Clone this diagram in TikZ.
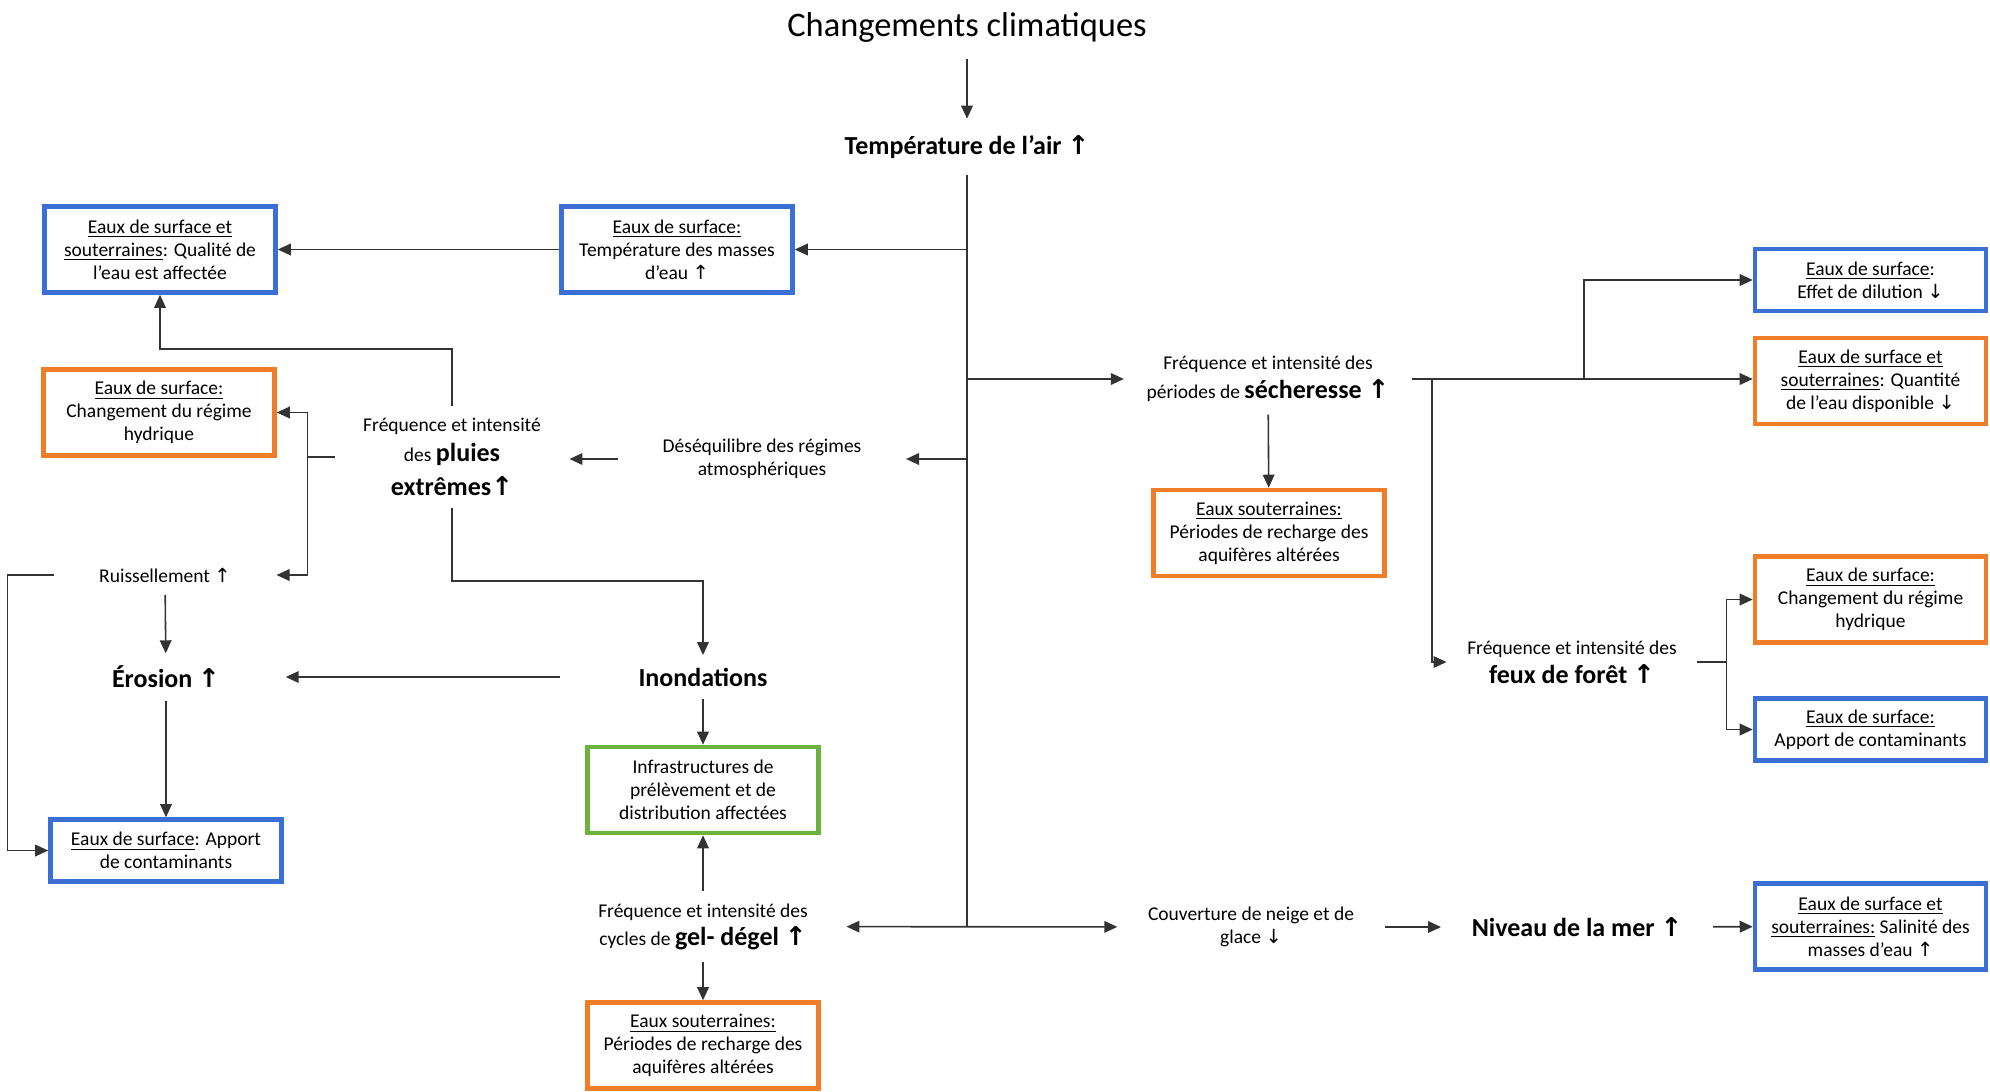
\documentclass[tikz,border=0pt]{standalone}
\usepackage{amsmath}
\usepackage{fontspec}
\setmainfont{Carlito}
\newfontfamily\flechefont{DejaVu Sans}
\usepackage{tikz}
\usetikzlibrary{arrows.meta, positioning}
\usepackage{xcolor}

\definecolor{bleuEau}{HTML}{3B6FD5}
\definecolor{orangeEau}{HTML}{F07D28}
\definecolor{vertInfra}{HTML}{6CB33E}

\newcommand{\petit}{\fontsize{5.55}{6.54}\selectfont}
\newcommand{\grand}{\fontsize{7.4}{8.4}\selectfont\bfseries}
\newcommand{\hausse}{{\flechefont ↑}}
\newcommand{\baisse}{{\flechefont ↓}}

\begin{document}
\begin{tikzpicture}
  [boite/.style={rectangle, draw, line width=1.3pt, fill=white, minimum width=2.31cm, inner sep=0pt, align=center, font=\petit},
  haute/.style={boite, minimum height=0.86cm},
  basse/.style={boite, minimum height=0.62cm},
  texte/.style={align=center, font=\petit, inner xsep=0.3cm, inner ysep=0.12cm},
  trait/.style={draw=black!80, line width=0.45pt},
  fleche/.style={trait, ->},
  >={Triangle[length=3.7pt, width=3.3pt]}]

\useasboundingbox (0, 0) rectangle (19.9, -10.91);

% Top of the chain
\node[texte, inner ysep=0.15cm, font=\fontsize{9.8}{11.8}\selectfont] (titre) at (9.67, -0.28) {Changements climatiques};
\node[texte, inner ysep=0.16cm, font=\grand] (tempAir) at (9.67, -1.47) {Température de l’air \hausse};

% Left branch
\node[haute, draw=bleuEau] (qualite) at (1.60, -2.495) {\underline{Eaux de surface et}\\\underline{souterraines}: Qualité de\\l’eau est affectée};
\node[haute, draw=bleuEau] (tempEau) at (6.77, -2.495) {\underline{Eaux de surface:}\\Température des masses\\d’eau \hausse};
\node[haute, draw=orangeEau] (regimeG) at (1.59, -4.125) {\underline{Eaux de surface:}\\Changement du régime\\hydrique};
\node[texte, inner xsep=0.28cm] (pluies) at (4.52, -4.57) {Fréquence et intensité\\[0.07cm]des {\grand pluies}\\[0.07cm]{\grand extrêmes\hausse}};
\node[texte, inner xsep=0.44cm] (deseq) at (7.62, -4.59) {Déséquilibre des régimes\\atmosphériques};
\node[texte, inner xsep=0.45cm] (ruiss) at (1.65, -5.75) {Ruissellement \hausse};
\node[texte, inner xsep=0.65cm, font=\grand] (erosion) at (1.66, -6.77) {Érosion \hausse};
\node[texte, inner xsep=0.78cm, font=\grand] (inond) at (7.03, -6.77) {Inondations};
\node[basse, draw=bleuEau] (contamG) at (1.66, -8.505) {\underline{Eaux de surface}: Apport\\de contaminants};
\node[haute, draw=vertInfra] (infra) at (7.03, -7.90) {Infrastructures de\\prélèvement et de\\distribution affectées};
\node[texte, inner xsep=0.38cm] (gel) at (7.03, -9.265) {Fréquence et intensité des\\[0.05cm]cycles de {\grand gel- dégel \hausse}};
\node[haute, draw=orangeEau] (rechargeG) at (7.03, -10.455) {\underline{Eaux souterraines:}\\Périodes de recharge des\\aquifères altérées};

% Right branch
\node[texte, inner xsep=0.22cm] (sech) at (12.68, -3.79) {Fréquence et intensité des\\[0.06cm]périodes de {\grand sécheresse \hausse}};
\node[haute, draw=orangeEau] (rechargeS) at (12.69, -5.33) {\underline{Eaux souterraines:}\\Périodes de recharge des\\aquifères altérées};
\node[basse, draw=bleuEau] (dilution) at (18.705, -2.80) {\underline{Eaux de surface}:\\Effet de dilution \baisse};
\node[haute, draw=orangeEau] (quantite) at (18.705, -3.81) {\underline{Eaux de surface et}\\\underline{souterraines}: Quantité\\de l’eau disponible \baisse};
\node[texte, inner xsep=0.2cm] (feux) at (15.72, -6.62) {Fréquence et intensité des\\[0.06cm]{\grand feux de forêt \hausse}};
\node[haute, draw=orangeEau] (regimeF) at (18.705, -5.995) {\underline{Eaux de surface:}\\Changement du régime\\hydrique};
\node[basse, draw=bleuEau] (contamF) at (18.705, -7.295) {\underline{Eaux de surface:}\\Apport de contaminants};
\node[texte] (couv) at (12.51, -9.27) {Couverture de neige et de\\glace \baisse};
\node[texte, font=\grand] (niveau) at (15.77, -9.27) {Niveau de la mer \hausse};
\node[haute, draw=bleuEau] (salinite) at (18.705, -9.265) {\underline{Eaux de surface et}\\\underline{souterraines:} Salinité des\\masses d’eau \hausse};

% Trunk and its branches
\draw[fleche] (titre) -- (tempAir);
\draw[trait] (tempAir) -- (tempAir |- gel);
\draw[fleche] (tempAir |- tempEau) -- (tempEau);
\draw[fleche] (tempEau) -- (qualite);
\draw[fleche] (tempAir |- sech) -- (sech);
\draw[fleche] (tempAir |- deseq) -- (deseq);
\draw[fleche] (deseq) -- (deseq -| pluies.east);
\draw[trait, <->] (gel) -- (couv);

% Arrows around the extreme rainfall
\draw[fleche] (pluies.north) -- (pluies.north |- 0,-3.49) -| (qualite);
\draw[trait] (pluies.west) -- ++(-0.27, 0) coordinate (fourche);
\draw[fleche] (fourche) |- (regimeG);
\draw[fleche] (fourche) |- (ruiss);
\draw[fleche] (pluies.south) |- (inond |- 0,-5.81) -- (inond);
\draw[fleche] (ruiss) -- (erosion);
\draw[fleche] (ruiss.west) -- ++(-0.46, 0) |- (contamG);
\draw[fleche] (erosion) -- (contamG);
\draw[fleche] (inond) -- (erosion);
\draw[fleche] (inond) -- (infra);
\draw[fleche] (gel) -- (infra);
\draw[fleche] (gel) -- (rechargeG);

% Arrows around the drought and the fires
\draw[fleche] (sech) -- (rechargeS);
\draw[fleche] (sech.east) -- (sech.east -| quantite.west);
\draw[fleche] (sech.east -| 15.84,0) |- (dilution);
\draw[fleche] (sech.east -| 14.32,0) |- (feux);
\draw[trait] (feux.east) -- ++(0.29, 0) coordinate (fourcheF);
\draw[fleche] (fourcheF) |- (regimeF);
\draw[fleche] (fourcheF) |- (contamF);
\draw[fleche] (couv) -- (niveau);
\draw[fleche] (niveau) -- (salinite);

\end{tikzpicture}
\end{document}
